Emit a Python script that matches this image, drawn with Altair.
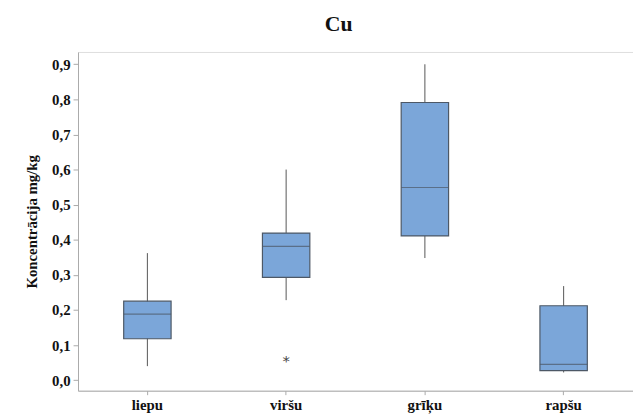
import altair as alt
import pandas as pd

categories = ["liepu", "viršu", "grīķu", "rapšu"]
whisker_low = [0.04, 0.228, 0.348, 0.022]
q1 = [0.118, 0.293, 0.411, 0.027]
median = [0.188, 0.381, 0.549, 0.045]
q3 = [0.225, 0.419, 0.791, 0.212]
whisker_high = [0.362, 0.600, 0.900, 0.268]
outlier_cat = ["viršu"]
outlier_val = [0.066]
y_ticks = [0.0, 0.1, 0.2, 0.3, 0.4, 0.5, 0.6, 0.7, 0.8, 0.9]

df = pd.DataFrame({"cat": categories, "lo": whisker_low, "q1": q1, "med": median,
                   "q3": q3, "hi": whisker_high})
dfo = pd.DataFrame({"cat": outlier_cat, "val": outlier_val})

FONT = "Liberation Serif"
x = alt.X("cat:N", sort=categories, title=None,
          scale=alt.Scale(paddingOuter=0, paddingInner=0),
          axis=alt.Axis(labelAngle=0, labelFont=FONT, labelFontSize=15, labelFontWeight="bold",
                        labelColor="#111", tickColor="#aaa", tickSize=4, domainColor="#aaa",
                        labelPadding=3))
yscale = alt.Scale(domain=[-0.03, 0.935], nice=False, zero=False)
yaxis = alt.Axis(values=y_ticks, tickCount=10,
                 labelExpr="replace(format(datum.value, '.1f'), '.', ',')",
                 labelOverlap=False,
                 labelFont=FONT, labelFontSize=15, labelFontWeight="bold", labelColor="#111",
                 tickColor="#aaa", tickSize=5, domainColor="#aaa", grid=False,
                 title="Koncentrācija mg/kg", titleFont=FONT, titleFontSize=15,
                 titleFontWeight="bold", titleColor="#111", titlePadding=12, labelPadding=3)

base = alt.Chart(df)
whisk = base.mark_rule(color="#555", strokeWidth=1).encode(
    x=x, y=alt.Y("lo:Q", scale=yscale, axis=yaxis), y2="hi:Q")
box = base.mark_bar(size=48, color="#7BA6D9", stroke="#4d5866", strokeWidth=1.2).encode(
    x=x, y=alt.Y("q1:Q", scale=yscale, axis=yaxis), y2="q3:Q")
med = base.mark_tick(size=48, thickness=1.2, color="#4d5866").encode(
    x=x, y=alt.Y("med:Q", scale=yscale, axis=yaxis))
out = alt.Chart(dfo).mark_text(text="*", font="DejaVu Sans", fontSize=15, color="#444", dy=4).encode(
    x=x, y=alt.Y("val:Q", scale=yscale, axis=yaxis))

chart = alt.layer(whisk, box, med, out).properties(
    width=562, height=343,
    title=alt.TitleParams("Cu", font=FONT, fontSize=22, fontWeight="bold", color="#111",
                          anchor="middle", dx=-17, offset=16),
    autosize=alt.AutoSizeParams(type="none"),
    padding={"left": 79, "top": 50, "right": 0, "bottom": 25},
).configure_view(stroke=None).configure(background="white")

chart.save("out.html", embed_options={"renderer": "svg", "actions": False})
